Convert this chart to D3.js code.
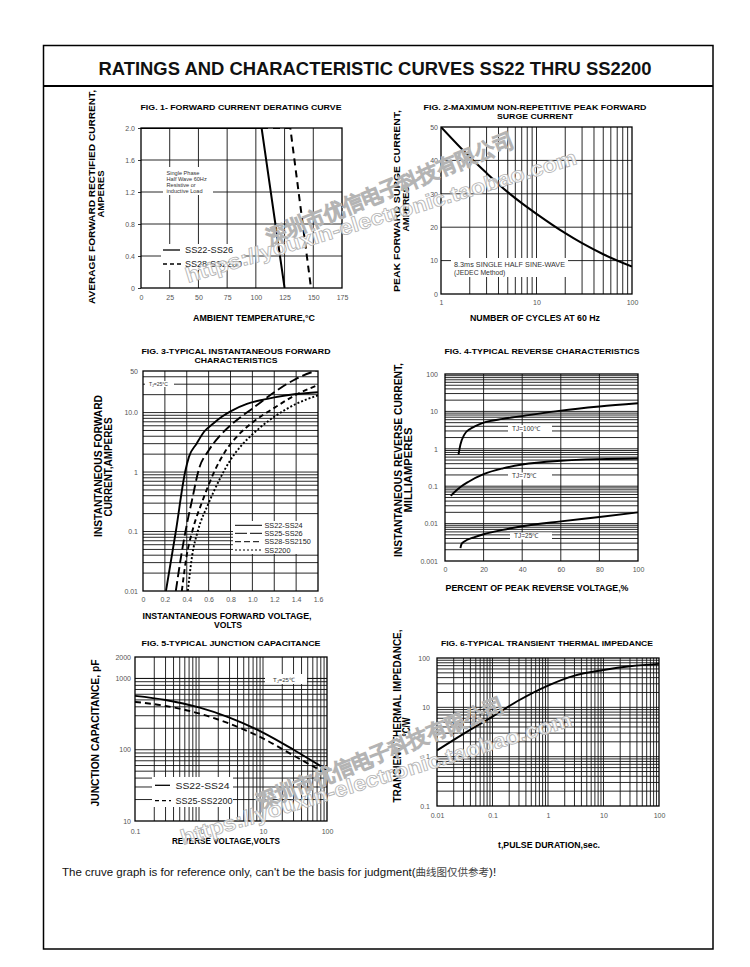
<!DOCTYPE html>
<html><head><meta charset="utf-8">
<script src="https://cdn.jsdelivr.net/npm/d3@7"></script>
<style>body{margin:0;background:#fff}svg{display:block}text{font-family:"Liberation Sans",Arial,sans-serif}</style>
</head><body><svg id="c" width="750" height="967"></svg>
<script>
// ---------- DATA ----------
// Fig 1
const fig1XTicks = [0,25,50,75,100,125,150,175];
const fig1YTicks = [0,0.4,0.8,1.2,1.6,2.0];
const fig1TempA = [0,105,125];   const fig1CurA = [2.0,2.0,0];   // SS22-SS26
const fig1TempB = [0,130,148];   const fig1CurB = [2.0,2.0,0];   // SS28-SS2200
// Fig 2
const fig2XTicks = [1,10,100];
const fig2YTicks = [0,10,20,30,40,50];
const fig2Cycles = [1,2,3,5,7,10,20,30,50,100];
const fig2Surge  = [50,41,36.2,30.5,27.2,24,18.2,15.2,11.9,8.2];
// Fig 3
const fig3XTicks = [0,0.2,0.4,0.6,0.8,1.0,1.2,1.4,1.6];
const fig3YTicks = [0.01,0.1,1,10,50];
const fig3V_A = [0.21,0.30,0.385,0.42,0.49,0.56,0.64,0.72,0.8,0.95,1.1,1.2,1.4,1.6];
const fig3I_A = [0.01,0.1,1.0,1.8,3.0,4.8,6.5,8.5,10.5,14,16.5,18,20.5,22];
const fig3V_B = [0.30,0.35,0.40,0.45,0.51,0.6,0.7,0.8,0.9,1.0,1.2,1.4,1.6];
const fig3I_B = [0.01,0.04,0.13,0.35,1.1,2.3,4.0,6.1,8.6,11.7,22,37,52];
const fig3V_C = [0.355,0.40,0.45,0.55,0.65,0.75,0.85,1.0,1.2,1.4,1.6];
const fig3I_C = [0.01,0.04,0.1,0.35,1.0,2.2,3.8,6.8,12,20,29];
const fig3V_D = [0.41,0.45,0.5,0.6,0.7,0.8,0.9,1.0,1.1,1.2,1.4,1.6];
const fig3I_D = [0.01,0.04,0.1,0.3,0.75,1.6,2.8,4.3,6.2,8.5,14,19.5];
const fig3Names = ["SS22-SS24","SS25-SS26","SS28-SS2150","SS2200"];
// Fig 4
const fig4XTicks = [0,20,40,60,80,100];
const fig4YTicks = [0.001,0.01,0.1,1,10,100];
const fig4P100 = [7,8,10,13,16,20,30,40,60,80,100];
const fig4I100 = [0.7,1.3,2.4,3.4,4.1,5.0,6.3,7.5,10.5,13.5,16.5];
const fig4P75  = [3,5,8,12,20,30,40,60,80,100];
const fig4I75  = [0.055,0.07,0.095,0.13,0.21,0.3,0.38,0.48,0.53,0.55];
const fig4P25  = [8,8.5,10,15,20,30,40,60,80,100];
const fig4I25  = [0.0022,0.0028,0.0033,0.0043,0.0052,0.0068,0.0085,0.0115,0.015,0.020];
// Fig 5
const fig5XTicks = [0.1,1,10,100];
const fig5YTicks = [10,100,1000,2000];
const fig5V_A = [0.1,0.3,1,3,10,30,100];
const fig5C_A = [569,499,392,282,174,100,52];
const fig5V_B = [0.1,0.3,1,3,10,30,90];
const fig5C_B = [469,411,323,232,144,83,48];
// Fig 6
const fig6XTicks = [0.01,0.1,1,10,100];
const fig6YTicks = [0.1,1,10,100];
const fig6T = [0.01,0.03,0.1,0.3,1,3,10,30,100];
const fig6Z = [1.34,2.9,6.5,13.9,27.6,44,57,68,76];
// Watermark texts
const wmTexts = ['深圳市优信电子科技有限公司','https://youxin-electronic.taobao.com'];

// ---------- HELPERS ----------
const svg = d3.select('#c');
const zip = (a,b)=>a.map((v,i)=>[v,b[i]]);
function logGrid(lo,hi){const out=[];for(let e=Math.floor(Math.log10(lo));e<=Math.ceil(Math.log10(hi));e++)for(let k=1;k<10;k++){const v=+(k*Math.pow(10,e)).toPrecision(3);if(v>lo*1.0001&&v<hi*0.9999)out.push(v);}return out;}
let clipN=0;
function panel(c){
  const g = svg.append('g');
  const id='clip'+(clipN++);
  g.append('clipPath').attr('id',id).append('rect').attr('x',c.x0).attr('y',c.y0).attr('width',c.x1-c.x0).attr('height',c.y1-c.y0);
  g.append('g').selectAll('line').data(c.vgrid).join('line')
    .attr('x1',d=>c.x(d)).attr('x2',d=>c.x(d)).attr('y1',c.y0).attr('y2',c.y1)
    .attr('stroke','#111').attr('stroke-width',c.gw||0.9);
  g.append('g').selectAll('line').data(c.hgrid).join('line')
    .attr('y1',d=>c.y(d)).attr('y2',d=>c.y(d)).attr('x1',c.x0).attr('x2',c.x1)
    .attr('stroke','#111').attr('stroke-width',c.gw||0.9);
  const ax = g.append('g').attr('transform',`translate(0,${c.y1})`)
    .call(d3.axisBottom(c.x).tickValues(c.xticks).tickFormat(c.xfmt).tickSize(0).tickPadding(c.xpad));
  ax.select('.domain').remove();
  ax.selectAll('text').attr('font-size',7).attr('fill','#555').attr('font-family','Liberation Sans, Arial, sans-serif');
  const ay = g.append('g').attr('transform',`translate(${c.x0},0)`)
    .call(d3.axisLeft(c.y).tickValues(c.yticks).tickFormat(c.yfmt).tickSize(c.ytick||0).tickPadding(c.ypad));
  ay.select('.domain').remove();
  ay.selectAll('line').attr('stroke','#333');
  ay.selectAll('text').attr('font-size',7).attr('fill','#555').attr('font-family','Liberation Sans, Arial, sans-serif');
  g.boxes = g.append('g');
  g.curves = g.append('g').attr('clip-path',`url(#${id})`);
  g.frame = ()=>g.append('rect').attr('x',c.x0).attr('y',c.y0).attr('width',c.x1-c.x0).attr('height',c.y1-c.y0)
    .attr('fill','none').attr('stroke','#000').attr('stroke-width',1.3);
  g.c=c;
  return g;
}
function curve(g,data,dash,w,type){
  const c=g.c;
  g.curves.append('path').datum(data)
    .attr('d',d3.line().x(d=>c.x(d[0])).y(d=>c.y(d[1])).curve(type||d3.curveMonotoneX))
    .attr('fill','none').attr('stroke','#000').attr('stroke-width',w||1.9).attr('stroke-dasharray',dash||null);
}
function box(g,x,y,w,h){g.boxes.append('rect').attr('x',x).attr('y',y).attr('width',w).attr('height',h).attr('fill','#fff');}
function txt(x,y,s,o={}){
  const t=svg.append('text').attr('x',x).attr('y',y).text(s)
    .attr('font-size',o.size||8).attr('font-weight',o.bold?'bold':null)
    .attr('text-anchor',o.anchor||'start').attr('fill',o.fill||'#000');
  if(o.len) t.attr('textLength',o.len).attr('lengthAdjust','spacingAndGlyphs');
  if(o.rot) t.attr('transform',`rotate(-90,${x},${y})`);
  return t;
}
function ylab(x,yc,s,len,size){
  const sz=size||9.5;
  txt(x+sz*0.36,yc,s,{size:sz,bold:true,anchor:'middle',len:len,rot:true});
}

// ---------- PAGE FRAME ----------
svg.append('rect').attr('x',43.5).attr('y',45.5).attr('width',669.5).attr('height',903.5).attr('fill','none').attr('stroke','#000').attr('stroke-width',1.5);
svg.append('line').attr('x1',43).attr('x2',713).attr('y1',86).attr('y2',86).attr('stroke','#000').attr('stroke-width',1.8);
txt(375,75,'RATINGS AND CHARACTERISTIC CURVES SS22 THRU SS2200',{size:18,bold:true,anchor:'middle',len:553,fill:'#111'});

// ---------- FIG 1 ----------
{
  const x=d3.scaleLinear().domain([0,175]).range([141,342]);
  const y=d3.scaleLinear().domain([0,2]).range([288,128]);
  const g=panel({x0:141,x1:342,y0:128,y1:288,x,y,vgrid:fig1XTicks.slice(1,-1),hgrid:fig1YTicks.slice(1,-1),
    xticks:fig1XTicks,xfmt:d3.format('d'),xpad:7,yticks:fig1YTicks,yfmt:d=>d===0?'0':d3.format('.1f')(d),ypad:3,ytick:3});
  box(g,163,167,50,28); box(g,161,244,83,26);
  curve(g,zip(fig1TempA,fig1CurA),null,2,d3.curveLinear);
  curve(g,zip(fig1TempB,fig1CurB),'7,5',2,d3.curveLinear);
  g.frame();
  ['Single Phase','Half Wave 60Hz','Resistive or','inductive Load'].forEach((s,i)=>txt(166.5,174.5+i*6,s,{size:5.6,fill:'#333'}));
  svg.append('line').attr('x1',163).attr('x2',180).attr('y1',250).attr('y2',250).attr('stroke','#000').attr('stroke-width',1.3);
  svg.append('line').attr('x1',163).attr('x2',181).attr('y1',264).attr('y2',264).attr('stroke','#000').attr('stroke-width',1.3).attr('stroke-dasharray','4,3');
  txt(185,253.3,'SS22-SS26',{size:9.3,fill:'#222',len:48});
  txt(185,267.3,'SS28-SS2200',{size:9.3,fill:'#222',len:57});
  txt(241,109.5,'FIG. 1- FORWARD CURRENT DERATING CURVE',{size:7.8,bold:true,anchor:'middle',len:201});
  txt(254,321,'AMBIENT TEMPERATURE,°C',{size:8.5,bold:true,anchor:'middle',len:122});
  ylab(92,197,'AVERAGE FORWARD RECTIFIED CURRENT,',214);
  ylab(101,194,'AMPERES',47);
}
// ---------- FIG 2 ----------
{
  const x=d3.scaleLog().domain([1,100]).range([441,632]);
  const y=d3.scaleLinear().domain([0,50]).range([294,127]);
  const g=panel({x0:441,x1:632,y0:127,y1:294,x,y,vgrid:logGrid(1,100),hgrid:[10,20,30,40],
    xticks:fig2XTicks,xfmt:d3.format('d'),xpad:6,yticks:fig2YTicks,yfmt:d3.format('d'),ypad:3});
  box(g,451,258,117,19);
  curve(g,zip(fig2Cycles,fig2Surge),null,2);
  g.frame();
  txt(454,266.5,'8.3ms SINGLE HALF SINE-WAVE',{size:6.8,fill:'#333',len:111});
  txt(454,275,'(JEDEC Method)',{size:6.8,fill:'#333'});
  txt(535,109.5,'FIG. 2-MAXIMUM NON-REPETITIVE PEAK FORWARD',{size:7.8,bold:true,anchor:'middle',len:223});
  txt(535,119,'SURGE CURRENT',{size:7.8,bold:true,anchor:'middle',len:76});
  txt(535,321,'NUMBER OF CYCLES AT 60 Hz',{size:8.5,bold:true,anchor:'middle',len:130});
  ylab(397,201,'PEAK  FORWARD SURGE CURRENT,',182);
  ylab(406,209,'AMPERES',45);
}
// ---------- FIG 3 ----------
{
  const x=d3.scaleLinear().domain([0,1.6]).range([143,318]);
  const y=d3.scaleLog().domain([0.01,50]).range([591,371]);
  const g=panel({x0:143,x1:318,y0:371,y1:591,x,y,vgrid:fig3XTicks.slice(1,-1),hgrid:logGrid(0.01,50),
    xticks:fig3XTicks,xfmt:d=>d===0?'0':d3.format('.1f')(d),xpad:6,yticks:fig3YTicks,yfmt:d=>d===10?'10.0':String(d),ypad:5});
  box(g,145,381,29,6); box(g,233,521,85,33);
  curve(g,zip(fig3V_A,fig3I_A),null,1.9);
  curve(g,zip(fig3V_B,fig3I_B),'10,4',1.9);
  curve(g,zip(fig3V_C,fig3I_C),'5,3.5',1.9);
  curve(g,zip(fig3V_D,fig3I_D),'2,2',1.9);
  g.frame();
  const t=txt(149,386,'T',{size:5,fill:'#333'}); t.append('tspan').attr('font-size',3.5).attr('dy',1).text('J'); t.append('tspan').attr('dy',-1).text('=25°C');
  const dashes=[null,'12,3','6,3','2,2'];
  fig3Names.forEach((n,i)=>{
    const yy=[525.3,533.3,541.7,550][i];
    svg.append('line').attr('x1',235).attr('x2',262).attr('y1',yy).attr('y2',yy).attr('stroke','#000').attr('stroke-width',1).attr('stroke-dasharray',dashes[i]);
    txt(264.5,yy+2.6,n,{size:7.3,fill:'#222'});
  });
  txt(236,354,'FIG. 3-TYPICAL INSTANTANEOUS FORWARD',{size:7.8,bold:true,anchor:'middle',len:189});
  txt(236,363,'CHARACTERISTICS',{size:7.8,bold:true,anchor:'middle',len:83});
  txt(227,619,'INSTANTANEOUS FORWARD VOLTAGE,',{size:8.5,bold:true,anchor:'middle',len:169});
  txt(228,628,'VOLTS',{size:8.5,bold:true,anchor:'middle',len:28});
  ylab(98,466,'INSTANTANEOUS FORWARD',142,10);
  ylab(108,467,'CURRENT,AMPERES',99,10);
}
// ---------- FIG 4 ----------
{
  const x=d3.scaleLinear().domain([0,100]).range([445,638]);
  const y=d3.scaleLog().domain([0.001,100]).range([561,374]);
  const g=panel({x0:445,x1:638,y0:374,y1:561,x,y,vgrid:[20,40,60,80],hgrid:logGrid(0.001,100),
    xticks:fig4XTicks,xfmt:d3.format('d'),xpad:6,yticks:fig4YTicks,yfmt:d=>String(d),ypad:7});
  box(g,508,425,44,7); box(g,508,472.5,44,7); box(g,510,532.5,42,7);
  curve(g,zip(fig4P100,fig4I100),null,1.9);
  curve(g,zip(fig4P75,fig4I75),null,1.9);
  curve(g,zip(fig4P25,fig4I25),null,1.9);
  g.frame();
  txt(512,430.6,'TJ=100℃',{size:6.5,fill:'#333'});
  txt(512,478.3,'TJ=75℃',{size:6.5,fill:'#333'});
  txt(514,538.3,'TJ=25℃',{size:6.5,fill:'#333'});
  txt(542,354,'FIG. 4-TYPICAL REVERSE CHARACTERISTICS',{size:7.8,bold:true,anchor:'middle',len:195});
  txt(537,591,'PERCENT OF PEAK REVERSE VOLTAGE,%',{size:8.5,bold:true,anchor:'middle',len:183});
  ylab(398,460,'INSTANTANEOUS REVERSE CURRENT,',194,10);
  ylab(408,470,'MILLIAMPERES',85,10);
}
// ---------- FIG 5 ----------
{
  const x=d3.scaleLog().domain([0.1,100]).range([135,327]);
  const y=d3.scaleLog().domain([10,2000]).range([821,657]);
  const g=panel({x0:135,x1:327,y0:657,y1:821,x,y,vgrid:logGrid(0.1,100),hgrid:logGrid(10,2000).concat([1000]).filter(v=>v<2000),
    xticks:fig5XTicks,xfmt:d=>d===1?'1.0':String(d),xpad:8,yticks:fig5YTicks,yfmt:d=>String(d),ypad:4});
  box(g,152,777,81,30); box(g,265,674,42,10);
  curve(g,zip(fig5V_A,fig5C_A),null,1.9);
  curve(g,zip(fig5V_B,fig5C_B),'6,4',1.9);
  g.frame();
  svg.append('line').attr('x1',155).attr('x2',170).attr('y1',785.3).attr('y2',785.3).attr('stroke','#000').attr('stroke-width',1.3);
  svg.append('line').attr('x1',155).attr('x2',171).attr('y1',800.7).attr('y2',800.7).attr('stroke','#000').attr('stroke-width',1.3).attr('stroke-dasharray','4,3');
  txt(175.5,788.7,'SS22-SS24',{size:9.3,fill:'#222',len:54});
  txt(175.5,804,'SS25-SS2200',{size:9.3,fill:'#222',len:57});
  const t=txt(273,681.5,'T',{size:6,fill:'#333'}); t.append('tspan').attr('font-size',4).attr('dy',1).text('J'); t.append('tspan').attr('dy',-1).text('=25℃');
  txt(231,646,'FIG. 5-TYPICAL JUNCTION CAPACITANCE',{size:7.8,bold:true,anchor:'middle',len:179});
  txt(226,844,'REVERSE VOLTAGE,VOLTS',{size:8.5,bold:true,anchor:'middle',len:108});
  ylab(95,733,'JUNCTION CAPACITANCE, pF',147,10);
}
// ---------- FIG 6 ----------
{
  const x=d3.scaleLog().domain([0.01,100]).range([437,659]);
  const y=d3.scaleLog().domain([0.1,100]).range([806,658]);
  const g=panel({x0:437,x1:659,y0:658,y1:806,x,y,vgrid:logGrid(0.01,100),hgrid:logGrid(0.1,100),
    xticks:fig6XTicks,xfmt:d=>String(d),xpad:7,yticks:fig6YTicks,yfmt:d=>String(d),ypad:7});
  curve(g,zip(fig6T,fig6Z),null,1.9);
  g.frame();
  txt(547,646,'FIG. 6-TYPICAL TRANSIENT THERMAL IMPEDANCE',{size:7.8,bold:true,anchor:'middle',len:212});
  txt(549,848,'t,PULSE DURATION,sec.',{size:8.5,bold:true,anchor:'middle',len:102});
  ylab(397,716,'TRANSIENT THERMAL IMPEDANCE,',173,10);
  ylab(406,727,'°C/W',19,10);
}
// ---------- NOTE ----------
{
  const t=txt(62,876,'The cruve graph is for reference only, can\'t be the basis for judgment(',{size:11.5,fill:'#111'});
  t.append('tspan').attr('font-family','Noto Sans CJK SC').attr('fill','#444').attr('font-size',10.5).text('曲线图仅供参考');
  t.append('tspan').text(')!');
}
// ---------- WATERMARKS ----------
{
  const wm=[
    {x:270,y:245,a:-22,s:wmTexts[0],len:265,f:'Noto Sans CJK SC',sz:21},
    {x:188,y:283,a:-17,s:wmTexts[1],len:408,f:'DejaVu Sans',sz:21},
    {x:260,y:810,a:-22,s:wmTexts[0],len:265,f:'Noto Sans CJK SC',sz:21},
    {x:183,y:845,a:-17,s:wmTexts[1],len:408,f:'DejaVu Sans',sz:21}
  ];
  wm.forEach(w=>{
    svg.append('text').attr('x',w.x).attr('y',w.y).text(w.s)
      .attr('font-family',w.f).attr('font-size',w.sz).attr('font-weight','bold')
      .attr('textLength',w.len).attr('lengthAdjust','spacingAndGlyphs')
      .attr('transform',`rotate(${w.a},${w.x},${w.y})`)
      .attr('fill','#fff').attr('fill-opacity',0.75).attr('stroke','#b4b4b4').attr('stroke-width',0.8);
  });
}
</script></body></html>
